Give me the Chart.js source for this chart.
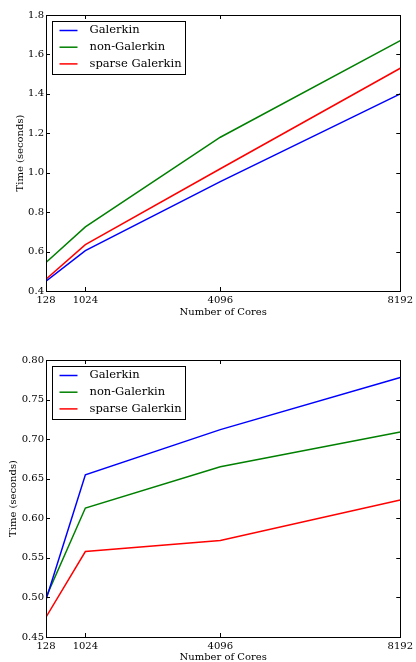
<!DOCTYPE html>
<html>
<head>
<meta charset="utf-8">
<script src="https://cdn.jsdelivr.net/npm/chart.js@4"></script>
<style>
  html, body { margin: 0; padding: 0; background: #fff; }
  .box { position: absolute; left: 0; width: 416px; height: 331px; }
</style>
</head>
<body>
<div class="box" style="top:0"><canvas id="topChart"></canvas></div>
<div class="box" style="top:331px"><canvas id="bottomChart"></canvas></div>
<script>
// x values (number of cores)
const cores = [128, 1024, 4096, 8192];
const seriesNames = ['Galerkin', 'non-Galerkin', 'sparse Galerkin'];
const seriesColors = ['#0000ff', '#008000', '#ff0000'];

// top plot
const topGalerkin = [0.45, 0.605, 0.955, 1.40];
const topNonGalerkin = [0.545, 0.725, 1.18, 1.67];
const topSparse = [0.46, 0.635, 1.02, 1.53];
const topYTicks = [0.4, 0.6, 0.8, 1.0, 1.2, 1.4, 1.6, 1.8];

// bottom plot
const botGalerkin = [0.497, 0.655, 0.712, 0.778];
const botNonGalerkin = [0.50, 0.613, 0.665, 0.709];
const botSparse = [0.475, 0.558, 0.572, 0.623];
const botYTicks = [0.45, 0.50, 0.55, 0.60, 0.65, 0.70, 0.75, 0.80];

const serif = "'DejaVu Serif', serif";

// frame, inward tick marks and boxed legend like matplotlib classic
const framePlugin = {
  id: 'frame',
  afterDatasetsDraw(chart) {
    const ctx = chart.ctx;
    const a = chart.chartArea;
    const xs = chart.scales.x, ys = chart.scales.y;
    ctx.save();
    ctx.strokeStyle = '#000';
    ctx.lineWidth = 1;
    ctx.beginPath();
    const L = 4;
    xs.ticks.forEach(t => {
      const px = Math.round(xs.getPixelForValue(t.value)) + 0.5;
      ctx.moveTo(px, a.bottom); ctx.lineTo(px, a.bottom - L);
      ctx.moveTo(px, a.top); ctx.lineTo(px, a.top + L);
    });
    ys.ticks.forEach(t => {
      const py = Math.round(ys.getPixelForValue(t.value)) + 0.5;
      ctx.moveTo(a.left, py); ctx.lineTo(a.left + L, py);
      ctx.moveTo(a.right, py); ctx.lineTo(a.right - L, py);
    });
    ctx.stroke();
    ctx.strokeRect(Math.round(a.left) + 0.5, Math.round(a.top) + 0.5,
      Math.round(a.right - a.left), Math.round(a.bottom - a.top));

    // legend
    const bx = Math.round(a.left) + 6.5, by = Math.round(a.top) + 6.5;
    ctx.fillStyle = '#fff';
    ctx.fillRect(bx, by, 133, 53);
    ctx.strokeStyle = '#000';
    ctx.strokeRect(bx, by, 133, 53);
    ctx.font = '11.5px ' + serif;
    ctx.textBaseline = 'middle';
    chart.data.datasets.forEach((ds, i) => {
      const y = by + 9 + 16.7 * i;
      ctx.strokeStyle = ds.borderColor;
      ctx.lineWidth = 1.5;
      ctx.beginPath();
      ctx.moveTo(bx + 7, y); ctx.lineTo(bx + 25, y);
      ctx.stroke();
      ctx.fillStyle = '#000';
      ctx.fillText(ds.label, bx + 37, y);
    });
    ctx.restore();
  }
};

function makeChart(id, values, yTicks, decimals, padTop, xHeight, xTitlePad, yTitlePad) {
  const datasets = values.map((vals, i) => ({
    label: seriesNames[i],
    data: cores.map((c, j) => ({ x: c, y: vals[j] })),
    borderColor: seriesColors[i],
    backgroundColor: seriesColors[i],
    borderWidth: 1.5,
    pointRadius: 0,
    tension: 0
  }));
  return new Chart(document.getElementById(id), {
    type: 'line',
    data: { datasets: datasets },
    options: {
      responsive: true,
      maintainAspectRatio: false,
      animation: false,
      layout: { padding: { left: 0, right: 13, top: padTop, bottom: 0 } },
      plugins: { legend: { display: false }, tooltip: { enabled: false } },
      scales: {
        x: {
          type: 'linear',
          min: cores[0],
          max: cores[cores.length - 1],
          afterBuildTicks: s => { s.ticks = cores.map(v => ({ value: v })); },
          afterFit: s => { s.height = xHeight; },
          grid: { display: false, drawTicks: false },
          border: { display: true, color: '#000' },
          ticks: {
            autoSkip: false, maxRotation: 0, padding: 3,
            color: '#000', font: { family: serif, size: 10 },
            callback: v => String(v)
          },
          title: {
            display: true, text: 'Number of Cores', color: '#000',
            font: { family: serif, size: 10, lineHeight: 1 },
            padding: { top: 0, bottom: xTitlePad }
          }
        },
        y: {
          min: yTicks[0],
          max: yTicks[yTicks.length - 1],
          afterBuildTicks: s => { s.ticks = yTicks.map(v => ({ value: v })); },
          afterFit: s => { s.width = 46; },
          grid: { display: false, drawTicks: false },
          border: { display: true, color: '#000' },
          ticks: {
            autoSkip: false, padding: 2,
            color: '#000', font: { family: serif, size: 10 },
            callback: v => Number(v).toFixed(decimals)
          },
          title: {
            display: true, text: 'Time (seconds)', color: '#000',
            font: { family: serif, size: 10, lineHeight: 1 },
            padding: { top: yTitlePad, bottom: 0 }
          }
        }
      }
    },
    plugins: [framePlugin]
  });
}

makeChart('topChart', [topGalerkin, topNonGalerkin, topSparse], topYTicks, 1, 15, 40, 14, 15);
makeChart('bottomChart', [botGalerkin, botNonGalerkin, botSparse], botYTicks, 2, 29, 25, 0, 8);
</script>
</body>
</html>
